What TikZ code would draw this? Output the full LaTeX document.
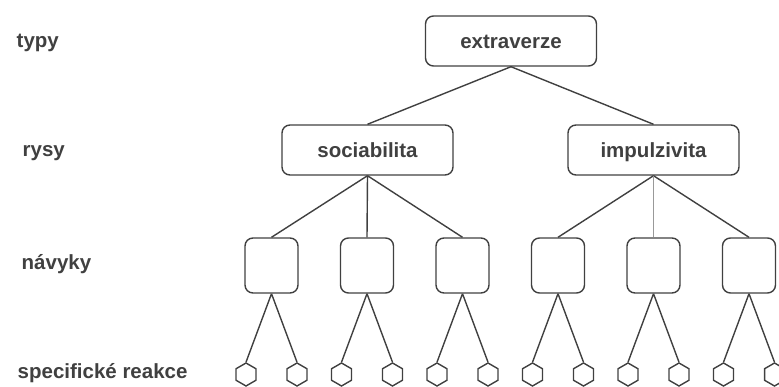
\documentclass[tikz,border=0pt]{standalone}
\usepackage{fontspec}
\setmainfont{Liberation Sans}
\usetikzlibrary{shapes.geometric}
\tikzset{
  trait/.style={draw,rounded corners=8pt,minimum width=171pt,minimum height=50pt,inner sep=0pt,text height=15pt,text depth=0pt},
  habit/.style={draw,rounded corners=8pt,minimum width=53pt,minimum height=55pt,inner sep=0pt},
  reaction/.style={draw,regular polygon,regular polygon sides=6,shape border rotate=30,minimum size=23pt,inner sep=0pt},
  level/.style={anchor=base west,inner sep=0pt}
}
\begin{document}
\begin{tikzpicture}[x=1pt,y=-1pt,line width=1.4pt,color=black!75,font=\fontsize{20.5}{24}\selectfont\bfseries]
\useasboundingbox (0,0) rectangle (779,387);
\clip (0,0) rectangle (779,387);
% level names
\node[level] (typy) at (16,48) {typy};
\node[level] (rysy) at (22,157) {rysy};
\node[level] (navyky) at (21,270) {návyky};
\node[level] (reakce) at (17,378) {specifické reakce};
% hierarchy
\node[trait] (extra) at (511,41) {extraverze};
\node[trait] (soc) at (367.5,150) {sociabilita};
\node[trait] (imp) at (653.5,150) {impulzivita};
\draw (extra.south)--(soc.north) (extra.south)--(imp.north);
\foreach \i/\x in {1/271.5,2/367,3/462.5,4/558,5/653.5,6/749}{
\node[habit] (h\i) at (\x,265.5) {};
\node[reaction] (ra\i) at (\x-25.5,374.5) {};
\node[reaction] (rb\i) at (\x+25.5,374.5) {};
\draw (h\i.south)--(ra\i.north) (h\i.south)--(rb\i.north);
}
\draw (soc.south)--(h1.north) (soc.south)--(h2.north) (soc.south)--(h3.north);
\draw (imp.south)--(h4.north) (imp.south)--(h6.north);
\draw[black!40] (imp.south)--(h5.north);
\end{tikzpicture}
\end{document}
